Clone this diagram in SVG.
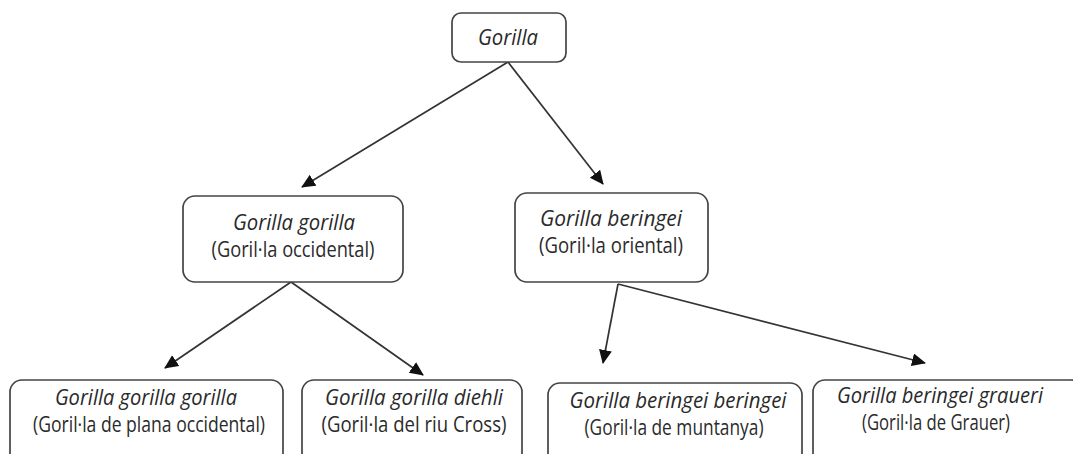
<svg xmlns="http://www.w3.org/2000/svg" width="1073" height="454" viewBox="0 0 1073 454">
<defs>
<marker id="ah" markerWidth="14" markerHeight="14" refX="13" refY="6.5" orient="auto" markerUnits="userSpaceOnUse">
<path d="M0,0 L14,6.5 L0,13 Z" fill="#111"/>
</marker>
<style>
.box{fill:#fff;stroke:#444;stroke-width:1.7}
.t{font-family:"Open Sans","Liberation Sans",sans-serif;font-size:21px;fill:#2a2a2a;text-anchor:middle}
.i{font-style:italic}
.c{stroke:#333;stroke-width:1.7;fill:none;marker-end:url(#ah)}
</style>
</defs>
<rect width="1073" height="454" fill="#fff"/>
<g id="connectors">
<line class="c" x1="508" y1="62" x2="302" y2="187"/>
<line class="c" x1="508" y1="62" x2="603" y2="184"/>
<line class="c" x1="291" y1="282" x2="165" y2="368"/>
<line class="c" x1="291" y1="282" x2="423" y2="375"/>
<line class="c" x1="618" y1="284" x2="603" y2="363"/>
<line class="c" x1="618" y1="284" x2="925" y2="363"/>
</g>
<g id="gorilla">
<rect class="box" x="452" y="13" width="114" height="49" rx="9"/>
<text class="t i" x="508" y="45" textLength="60" lengthAdjust="spacingAndGlyphs">Gorilla</text>
</g>
<g id="gorilla-gorilla">
<rect class="box" x="183" y="196" width="220" height="86" rx="12"/>
<text class="t i" x="294" y="230" textLength="122" lengthAdjust="spacingAndGlyphs">Gorilla gorilla</text>
<text class="t" x="293" y="257" textLength="163" lengthAdjust="spacingAndGlyphs">(Goril·la occidental)</text>
</g>
<g id="gorilla-beringei">
<rect class="box" x="515" y="193" width="193" height="89" rx="12"/>
<text class="t i" x="611" y="226" textLength="142" lengthAdjust="spacingAndGlyphs">Gorilla beringei</text>
<text class="t" x="611" y="253" textLength="144" lengthAdjust="spacingAndGlyphs">(Goril·la oriental)</text>
</g>
<g id="ggg">
<rect class="box" x="10" y="380" width="273" height="90" rx="12"/>
<text class="t i" x="146" y="405" textLength="182" lengthAdjust="spacingAndGlyphs">Gorilla gorilla gorilla</text>
<text class="t" x="149" y="432" textLength="232" lengthAdjust="spacingAndGlyphs">(Goril·la de plana occidental)</text>
</g>
<g id="ggd">
<rect class="box" x="302" y="380" width="220" height="90" rx="12"/>
<text class="t i" x="414" y="405" textLength="178" lengthAdjust="spacingAndGlyphs">Gorilla gorilla diehli</text>
<text class="t" x="414" y="432" textLength="185" lengthAdjust="spacingAndGlyphs">(Goril·la del riu Cross)</text>
</g>
<g id="gbb">
<rect class="box" x="548" y="383" width="254" height="90" rx="12"/>
<text class="t i" x="678" y="408" textLength="217" lengthAdjust="spacingAndGlyphs">Gorilla beringei beringei</text>
<text class="t" x="674" y="435" textLength="179" lengthAdjust="spacingAndGlyphs">(Goril·la de muntanya)</text>
</g>
<g id="gbg">
<rect class="box" x="813" y="380" width="270" height="90" rx="12"/>
<text class="t i" x="940" y="403" textLength="206" lengthAdjust="spacingAndGlyphs">Gorilla beringei graueri</text>
<text class="t" x="936" y="430" textLength="148" lengthAdjust="spacingAndGlyphs">(Goril·la de Grauer)</text>
</g>
</svg>
